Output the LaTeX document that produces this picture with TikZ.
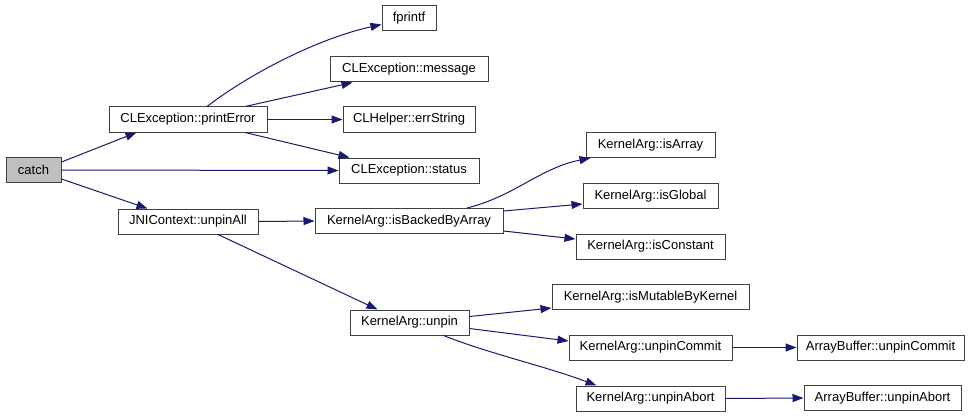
\documentclass[tikz,border=0pt]{standalone}
\usepackage{fontspec}
\setmainfont{Liberation Sans}
\usetikzlibrary{arrows.meta}
\definecolor{edgeblue}{RGB}{25,25,112}
\definecolor{boxline}{RGB}{64,64,64}
\definecolor{greyfill}{RGB}{191,191,191}
\begin{document}
\begin{tikzpicture}[x=1pt,y=-1pt,
  fn/.style={draw=boxline, line width=1pt, fill=white, minimum height=25pt, inner sep=0pt,
    font=\fontsize{13}{15}\selectfont},
  rootfn/.style={fn, fill=greyfill},
  call/.style={draw=edgeblue, line width=1pt, -{Triangle[length=11pt,width=8pt]}}]
\useasboundingbox (0,0) rectangle (973,417);
% nodes
\node[rootfn, minimum width=55pt]  (catch)      at (33.5,170)  {catch};
\node[fn, minimum width=158pt] (printError) at (188,119.5) {CLException::printError};
\node[fn, minimum width=54pt]  (fprintf)    at (409,18.5)  {fprintf};
\node[fn, minimum width=158pt] (message)    at (409,69.5)  {CLException::message};
\node[fn, minimum width=132pt] (errString)  at (409,119.5) {CLHelper::errString};
\node[fn, minimum width=140pt] (status)     at (409,170.5) {CLException::status};
\node[fn, minimum width=140pt] (unpinAll)   at (188,221.5) {JNIContext::unpinAll};
\node[fn, minimum width=188pt] (backed)     at (409,221)   {KernelArg::isBackedByArray};
\node[fn, minimum width=129pt] (isArray)    at (650.5,145) {KernelArg::isArray};
\node[fn, minimum width=135pt] (isGlobal)   at (650.5,196) {KernelArg::isGlobal};
\node[fn, minimum width=149pt] (isConstant) at (650.5,246.5) {KernelArg::isConstant};
\node[fn, minimum width=119pt] (unpin)      at (409.5,322.5) {KernelArg::unpin};
\node[fn, minimum width=197pt] (mutable)    at (650.5,297) {KernelArg::isMutableByKernel};
\node[fn, minimum width=163pt] (commit)     at (650.5,347.5) {KernelArg::unpinCommit};
\node[fn, minimum width=149pt] (abort)      at (650.5,398.5) {KernelArg::unpinAbort};
\node[fn, minimum width=167pt] (abCommit)   at (880.5,347.5) {ArrayBuffer::unpinCommit};
\node[fn, minimum width=157pt] (abAbort)    at (882.5,398)   {ArrayBuffer::unpinAbort};
% edges
\draw[call] ([yshift=8pt]catch.east) -- ([xshift=28pt]printError.south west);
\draw[call] (catch.east) -- (status.west);
\draw[call] ([yshift=-9pt]catch.east) -- ([xshift=30pt]unpinAll.north west);
\draw[call] ([xshift=19pt]printError.north) .. controls (252,72) and (320,38) .. ([yshift=-6pt]fprintf.west);
\draw[call] ([xshift=57pt]printError.north) -- ([xshift=23pt]message.south west);
\draw[call] (printError.east) -- (errString.west);
\draw[call] ([xshift=57pt]printError.south) -- ([xshift=11pt]status.north west);
\draw[call] (unpinAll.east) -- (backed.west);
\draw[call] ([xshift=30pt]unpinAll.south) -- ([xshift=28pt]unpin.north west);
\draw[call] ([xshift=58pt]backed.north) .. controls (515,196) and (540,168) .. ([xshift=5pt]isArray.south west);
\draw[call] ([yshift=10pt]backed.east) -- ([yshift=-8pt]isGlobal.west);
\draw[call] ([yshift=-10pt]backed.east) -- ([yshift=7.5pt]isConstant.west);
\draw[call] ([yshift=6pt]unpin.east) -- ([yshift=-11pt]mutable.west);
\draw[call] ([yshift=-6pt]unpin.east) -- ([yshift=6.5pt]commit.west);
\draw[call] ([xshift=34pt]unpin.south) .. controls (490,354) and (545,366) .. ([xshift=21pt]abort.north west);
\draw[call] (commit.east) -- (abCommit.west);
\draw[call] (abort.east) -- (abAbort.west);
\end{tikzpicture}
\end{document}
